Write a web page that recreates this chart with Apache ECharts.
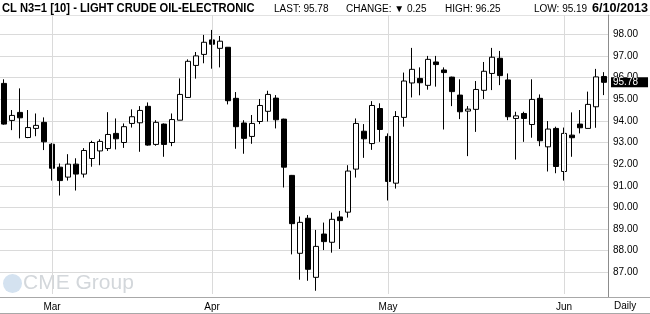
<!DOCTYPE html>
<html><head><meta charset="utf-8">
<script src="https://cdn.jsdelivr.net/npm/echarts/dist/echarts.min.js"></script>
<style>html,body{margin:0;padding:0;background:#fff}#c{width:650px;height:314px}</style>
</head><body><div id="c"></div>
<script>
const dates = [
 '2013-02-21','2013-02-22','2013-02-25','2013-02-26','2013-02-27','2013-02-28',
 '2013-03-01','2013-03-04','2013-03-05','2013-03-06','2013-03-07','2013-03-08',
 '2013-03-11','2013-03-12','2013-03-13','2013-03-14','2013-03-15',
 '2013-03-18','2013-03-19','2013-03-20','2013-03-21','2013-03-22',
 '2013-03-25','2013-03-26','2013-03-27','2013-03-28',
 '2013-04-01','2013-04-02','2013-04-03','2013-04-04','2013-04-05',
 '2013-04-08','2013-04-09','2013-04-10','2013-04-11','2013-04-12',
 '2013-04-15','2013-04-16','2013-04-17','2013-04-18','2013-04-19',
 '2013-04-22','2013-04-23','2013-04-24','2013-04-25','2013-04-26',
 '2013-04-29','2013-04-30',
 '2013-05-01','2013-05-02','2013-05-03',
 '2013-05-06','2013-05-07','2013-05-08','2013-05-09','2013-05-10',
 '2013-05-13','2013-05-14','2013-05-15','2013-05-16','2013-05-17',
 '2013-05-20','2013-05-21','2013-05-22','2013-05-23','2013-05-24',
 '2013-05-28','2013-05-29','2013-05-30','2013-05-31',
 '2013-06-03','2013-06-04','2013-06-05','2013-06-06','2013-06-07','2013-06-10'
];
const opens = [
 95.73,94.02,94.39,93.23,93.65,93.93,
 92.92,91.86,91.40,92.00,91.54,92.26,92.61,92.72,93.42,93.00,93.88,93.91,94.67,92.91,93.85,93.00,94.03,95.08,96.56,97.07,
 97.74,97.35,97.40,95.04,93.90,93.28,93.97,94.44,95.05,94.08,91.48,87.88,89.50,86.77,88.77,88.39,89.56,89.78,91.77,93.52,92.95,94.57,
 93.28,91.12,94.16,95.75,95.96,95.64,96.72,96.35,96.02,95.19,94.45,94.53,95.41,96.19,96.89,95.89,94.11,94.34,93.83,95.04,92.80,93.65,
 91.66,93.34,93.85,93.65,94.65,96.05
];
const highs = [
 95.92,94.50,95.50,94.50,94.34,94.16,
 92.97,92.03,92.46,92.27,92.74,93.08,93.15,94.40,94.11,93.88,94.53,94.68,94.85,94.03,93.88,94.34,95.96,96.84,97.18,97.97,
 98.20,97.92,97.40,95.33,94.03,94.27,95.01,95.39,95.19,94.10,91.50,89.58,89.65,88.96,89.30,89.76,89.84,91.95,94.11,93.85,94.91,94.81,
 93.42,94.45,96.23,97.37,96.47,97.00,97.00,96.47,96.04,95.92,94.68,95.84,96.72,97.37,97.23,96.19,94.42,94.42,95.92,95.22,93.99,93.73,
 93.69,94.39,94.50,95.35,96.40,96.25
];
const lows = [
 93.82,93.57,93.19,93.20,93.29,92.65,
 91.24,90.55,91.24,90.78,91.38,91.88,91.95,92.61,92.68,92.75,93.69,92.57,92.85,92.85,92.34,92.83,94.03,95.08,95.95,96.66,
 96.41,96.47,94.76,92.71,92.48,92.94,93.85,93.97,93.65,90.92,87.83,86.66,86.61,86.15,88.03,87.91,88.08,89.53,91.38,92.29,92.66,93.03,
 90.32,90.87,93.73,95.08,95.18,95.44,95.58,93.60,94.68,94.08,92.37,93.49,95.01,95.42,95.65,94.03,92.21,93.03,93.22,92.83,91.66,91.58,
 91.24,92.34,93.42,93.65,93.68,95.19
];
const closes = [
 93.85,94.25,94.14,93.69,93.79,93.03,
 91.81,91.24,92.00,91.54,92.63,93.00,93.05,93.37,93.17,93.73,94.19,94.48,92.88,93.93,92.91,94.06,95.22,96.75,97.00,97.63,
 97.54,97.68,94.93,93.73,93.19,93.88,94.71,95.22,94.05,91.86,89.25,89.31,87.14,88.20,88.42,89.45,89.39,91.68,93.88,93.17,94.71,93.60,
 91.20,94.20,95.84,96.38,95.76,96.84,96.60,96.23,95.35,94.42,94.54,95.45,96.29,96.94,96.09,94.19,94.23,94.11,94.99,93.08,93.62,91.89,
 93.42,93.22,93.68,94.76,96.03,95.78
];
const monthStarts = ['2013-03-01','2013-04-01','2013-05-01','2013-06-03'];
const monthLabels = ['Mar','Apr','May','Jun'];
const yMin = 86, yMax = 98.89;
const lastPrice = 95.78;
const titleText = 'CL N3=1 [10] - LIGHT CRUDE OIL-ELECTRONIC';
const infoTexts = ['LAST: 95.78', 'CHANGE: \u25BC 0.25', 'HIGH: 96.25', 'LOW: 95.19'];
const dateText = '6/10/2013';

const candleData = dates.map((d, i) => [opens[i], closes[i], lows[i], highs[i]]);
const chart = echarts.init(document.getElementById('c'), null, {renderer: 'canvas'});
const smallFont = '10px "Liberation Sans", Arial, sans-serif';
const boldFont = 'bold 13px "Liberation Sans", Arial, sans-serif';
const infoX = [274, 346, 445, 534];

chart.setOption({
  animation: false,
  backgroundColor: '#fff',
  grid: {left: 0, right: 42, top: 15, bottom: 20, containLabel: false},
  xAxis: {
    type: 'category', data: dates, boundaryGap: true,
    axisLine: {show: false}, axisTick: {show: false}, splitLine: {show: false},
    axisLabel: {
      interval: (idx, val) => monthStarts.indexOf(val) >= 0,
      formatter: (val) => { const k = monthStarts.indexOf(val); return k >= 0 ? monthLabels[k] : ''; },
      fontSize: 10, fontFamily: '"Liberation Sans", Arial, sans-serif', color: '#000', margin: 8
    }
  },
  yAxis: {
    type: 'value', position: 'right', min: yMin, max: yMax, scale: true,
    splitNumber: 13, minInterval: 1, maxInterval: 1,
    axisLine: {show: true, lineStyle: {color: '#8c8c8c', width: 1}},
    axisTick: {show: false},
    splitLine: {show: true, showMinLine: false, showMaxLine: false, lineStyle: {color: '#dadada', width: 1}},
    axisLabel: {showMinLabel: false, showMaxLabel: false, formatter: v => v.toFixed(2),
      fontSize: 10, fontFamily: '"Liberation Sans", Arial, sans-serif', color: '#000', margin: 5}
  },
  series: [
    {
      type: 'line', data: [], z: 1, silent: true,
      markLine: {
        silent: true, symbol: ['none', 'none'], animation: false,
        label: {show: false},
        lineStyle: {color: '#dadada', width: 1, type: 'solid'},
        data: monthStarts.map(m => ({xAxis: m}))
      }
    },
    {
      type: 'candlestick', data: candleData, z: 3, barWidth: 5,
      itemStyle: {color: '#ffffff', color0: '#000000', borderColor: '#000000', borderColor0: '#000000', borderWidth: 1},
      markLine: {
        silent: true, symbol: ['none', 'none'], animation: false,
        lineStyle: {color: 'rgba(0,0,0,0)', width: 0},
        label: {show: true, position: 'end', distance: 3, formatter: () => lastPrice.toFixed(2),
          color: '#fff', backgroundColor: '#000', fontSize: 10, lineHeight: 10,
          fontFamily: '"Liberation Sans", Arial, sans-serif', padding: [0, 10, 0, 2]},
        data: [{yAxis: lastPrice}]
      }
    }
  ],
  graphic: [
    {type: 'line', shape: {x1: 0, y1: 15.5, x2: 650, y2: 15.5}, style: {stroke: '#e2e2e2', lineWidth: 1}, silent: true},
    {type: 'line', shape: {x1: 0, y1: 297.5, x2: 650, y2: 297.5}, style: {stroke: '#a8a8a8', lineWidth: 1}, silent: true},
    {type: 'line', shape: {x1: 0, y1: 313.5, x2: 650, y2: 313.5}, style: {stroke: '#a8a8a8', lineWidth: 1}, silent: true},
    {type: 'line', shape: {x1: 608.5, y1: 294, x2: 608.5, y2: 297}, style: {stroke: '#8c8c8c', lineWidth: 1}, silent: true},
    {type: 'text', x: 2, y: 8, scaleX: 0.86, style: {text: titleText, font: boldFont, fill: '#000', textVerticalAlign: 'middle', verticalAlign: 'middle'}},
    ...infoTexts.map((t, i) => ({type: 'text', x: infoX[i], y: 9, style: {text: t, font: smallFont, fill: '#000', verticalAlign: 'middle', textVerticalAlign: 'middle'}})),
    {type: 'text', x: 648, y: 8, scaleX: 0.97, style: {text: dateText, font: boldFont, fill: '#000', align: 'right', textAlign: 'right', verticalAlign: 'middle', textVerticalAlign: 'middle'}},
    {type: 'text', x: 614, y: 306.5, style: {text: 'Daily', font: smallFont, fill: '#000', verticalAlign: 'middle', textVerticalAlign: 'middle'}},
    {type: 'circle', shape: {cx: 12.5, cy: 283.5, r: 9.5}, style: {fill: '#d4e2f0'}, silent: true, z: 0},
    {type: 'text', x: 23, y: 283.5, z: 0, style: {text: 'CME Group', font: '21px "Liberation Sans", Arial, sans-serif', fill: '#d3d7db', verticalAlign: 'middle', textVerticalAlign: 'middle'}}
  ]
});
</script>
</body></html>
